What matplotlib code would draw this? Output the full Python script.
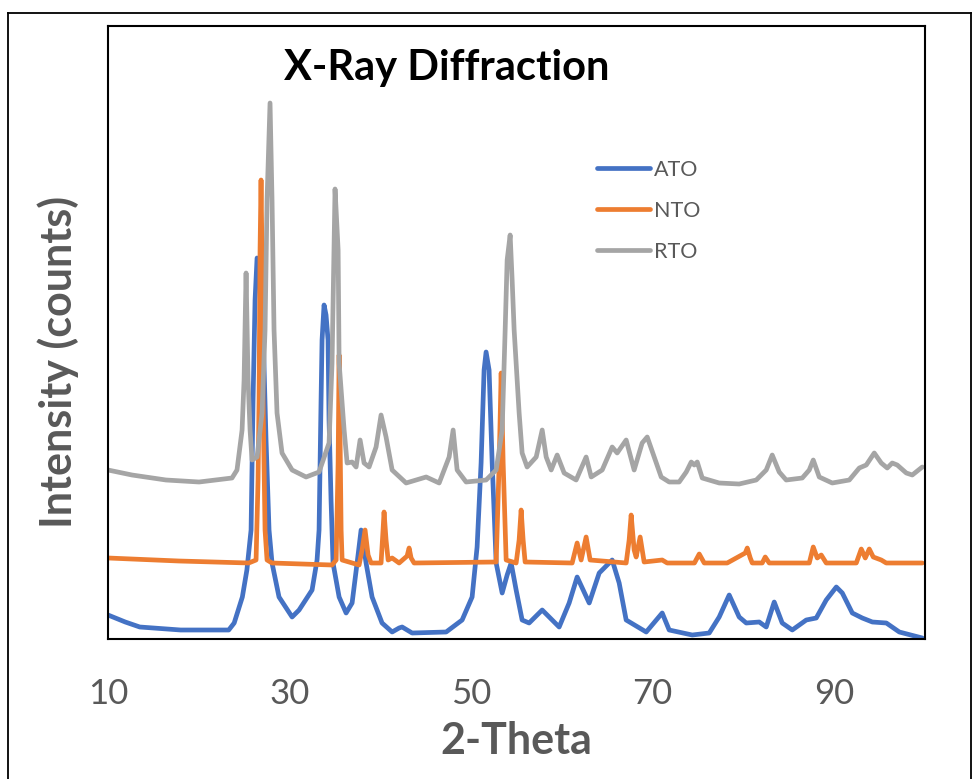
import matplotlib
matplotlib.use("Agg")
import matplotlib.pyplot as plt
from matplotlib.lines import Line2D

plt.rcParams['font.family'] = ['Lato', 'DejaVu Sans']

# 2-theta (deg) and intensity (arbitrary counts) for each sample
ato_2theta = [10.0, 11.9, 13.5, 18.0, 23.3, 23.9, 24.8, 25.3, 25.76, 25.98, 26.20, 26.42,
              26.75, 27.08, 27.41, 27.74, 28.07, 28.84, 30.28, 31.05, 32.48, 33.03, 33.25,
              33.47, 33.58, 33.80, 34.02, 34.24, 34.35, 34.57, 34.79, 35.46, 36.23, 36.89,
              37.44, 37.88, 38.43, 39.09, 40.19, 41.30, 42.07, 42.40, 43.50, 47.25, 49.01,
              50.11, 50.66, 51.10, 51.43, 51.65, 51.98, 52.32, 52.76, 53.42, 53.97, 54.41,
              54.96, 55.62, 56.39, 57.83, 59.70, 60.80, 61.68, 63.01, 64.11, 65.54, 66.31,
              67.08, 69.29, 71.05, 71.82, 74.36, 76.23, 77.33, 78.43, 79.53, 80.31, 81.74,
              82.51, 83.39, 84.27, 85.38, 86.92, 88.02, 89.12, 90.23, 90.89, 91.99, 93.09,
              94.20, 95.74, 97.17, 99.70]
ato_counts = [24, 17, 12, 9, 9, 16, 42, 69, 109, 239, 339, 381,
              377, 309, 199, 109, 76, 42, 22, 29, 49, 79, 109,
              239, 299, 334, 324, 299, 219, 139, 76, 42, 26, 36,
              76, 109, 76, 42, 16, 7, 11, 12, 6, 7, 19,
              42, 92, 176, 269, 287, 269, 176, 76, 46, 64, 76,
              49, 19, 16, 29, 12, 36, 62, 36, 66, 79, 56,
              19, 7, 26, 9, 4, 6, 22, 44, 22, 16, 17,
              12, 37, 16, 9, 19, 21, 39, 52, 46, 26, 21,
              17, 16, 7, 1]

nto_2theta = [10.0, 17.8, 25.5, 26.31, 26.53, 26.64, 26.75, 26.86, 26.97, 27.08, 27.30,
              27.52, 28.07, 34.68, 35.13, 35.35, 35.46, 35.68, 35.79, 37.66, 37.99, 38.32,
              38.65, 38.98, 40.08, 40.30, 40.41, 40.63, 40.86, 41.30, 42.07, 42.95, 43.17,
              43.39, 43.72, 52.76, 53.09, 53.31, 53.53, 53.86, 54.96, 55.29, 55.51, 55.73,
              55.95, 61.13, 61.68, 62.12, 62.67, 63.11, 67.08, 67.41, 67.63, 67.96, 68.18,
              68.62, 69.06, 71.05, 71.6, 74.6, 75.13, 75.68, 78.21, 80.2, 80.42, 80.75,
              80.97, 82.07, 82.40, 82.84, 87.25, 87.69, 88.13, 88.57, 89.12, 92.43, 92.98,
              93.42, 93.86, 94.30, 95.18, 95.73, 99.70]
nto_counts = [81, 78, 76, 79, 159, 239, 389, 459, 379, 239, 109,
              79, 76, 74, 79, 176, 284, 109, 79, 74, 89, 109,
              84, 76, 76, 109, 127, 99, 79, 81, 76, 83, 91,
              81, 76, 77, 176, 266, 176, 79, 76, 99, 129, 99,
              77, 76, 96, 79, 102, 79, 76, 99, 124, 89, 82,
              102, 77, 79, 76, 76, 85, 76, 76, 86, 91, 81,
              76, 76, 82, 76, 76, 92, 81, 84, 76, 76, 90,
              81, 90, 82, 79, 76, 76]

rto_2theta = [10.0, 12.64, 16.39, 20.03, 23.66, 24.21, 24.77, 24.99, 25.21, 25.43, 25.65,
              25.87, 26.42, 26.97, 27.30, 27.52, 27.85, 28.07, 28.29, 28.62, 29.17, 30.28,
              31.82, 33.25, 34.35, 34.68, 35.01, 35.35, 35.46, 36.01, 36.34, 36.89, 37.33,
              37.77, 38.21, 38.76, 39.53, 40.08, 40.63, 41.30, 42.84, 45.05, 46.48, 47.58,
              48.02, 48.46, 49.45, 51.65, 52.76, 53.42, 53.75, 53.97, 54.30, 54.52, 54.74,
              55.29, 55.62, 56.17, 57.17, 57.83, 58.27, 58.82, 59.48, 60.25, 61.57, 62.67,
              63.23, 64.44, 65.54, 66.09, 67.08, 67.96, 68.84, 69.40, 70.17, 70.94, 71.82,
              72.92, 73.70, 74.25, 74.58, 74.91, 75.46, 77.33, 79.53, 81.41, 82.51, 83.17,
              83.94, 84.71, 86.48, 87.25, 87.69, 88.35, 89.78, 91.66, 92.76, 93.53, 94.41,
              95.18, 95.84, 96.39, 96.94, 97.94, 98.60, 99.70]
rto_counts = [169, 164, 159, 157, 161, 169, 209, 259, 366, 259, 209,
              179, 182, 226, 309, 439, 536, 439, 309, 226, 186, 169,
              162, 167, 196, 276, 450, 389, 276, 209, 176, 177, 172,
              199, 176, 172, 192, 224, 202, 169, 156, 162, 156, 182,
              209, 169, 157, 159, 169, 209, 309, 379, 404, 359, 309,
              226, 186, 172, 182, 209, 182, 169, 184, 166, 159, 182,
              162, 169, 192, 186, 199, 169, 196, 202, 182, 162, 157,
              157, 167, 177, 174, 177, 161, 156, 155, 159, 169, 184,
              167, 159, 161, 169, 179, 162, 156, 159, 171, 174, 186,
              176, 171, 176, 174, 166, 164, 172]

series_names = ["ATO", "NTO", "RTO"]
series_colors = ["#4472C4", "#ED7D31", "#A5A5A5"]
x_ticks = [10, 30, 50, 70, 90]

W, H = 974, 779
fig = plt.figure(figsize=(W / 100, H / 100), dpi=100)

# chart-area border
for xs, ys in [([8, 8], [H + 5, 13]), ([8, 971], [13, 13]), ([971, 971], [13, H + 5])]:
    fig.add_artist(Line2D([x / W for x in xs], [1 - y / H for y in ys],
                          color="black", lw=1.3, transform=fig.transFigure))

ax = fig.add_axes([108 / W, 1 - 639 / H, (925 - 108) / W, (639 - 26) / H])

data = [(ato_2theta, ato_counts), (nto_2theta, nto_counts), (rto_2theta, rto_counts)]
for (tx, cy), name, col in zip(data, series_names, series_colors):
    ax.plot(tx, cy, color=col, lw=3.4, label=name, solid_joinstyle="round",
            solid_capstyle="round")

ax.set_xlim(10, 100)
ax.set_ylim(0, 613)
ax.set_xticks(x_ticks)
ax.set_xticklabels([str(t) for t in x_ticks])
ax.set_yticks([])
ax.tick_params(axis="x", length=0, pad=28, labelsize=25, labelcolor="#595959")
for s in ax.spines.values():
    s.set_color("black")
    s.set_linewidth(1.5)

ax.set_xlabel("2-Theta", fontsize=31, fontweight="bold", color="#595959", labelpad=8)
fig.text(58 / W, 1 - 362 / H, "Intensity (counts)", rotation=90, fontsize=31,
         fontweight="bold", color="#595959", ha="center", va="center")

ax.text(447 / W, 1 - 68 / H, "X-Ray Diffraction", transform=fig.transFigure,
        fontsize=30, fontweight="bold", color="black", ha="center", va="center")

leg = ax.legend(loc="upper left", bbox_to_anchor=((586 - 108) / (925 - 108), (639 - 149) / 613),
                frameon=False, fontsize=15.5, handlelength=2.45, handletextpad=0.2,
                labelspacing=0.98, borderpad=0)
for t in leg.get_texts():
    t.set_color("#595959")

fig.savefig("out.png", dpi=100)
